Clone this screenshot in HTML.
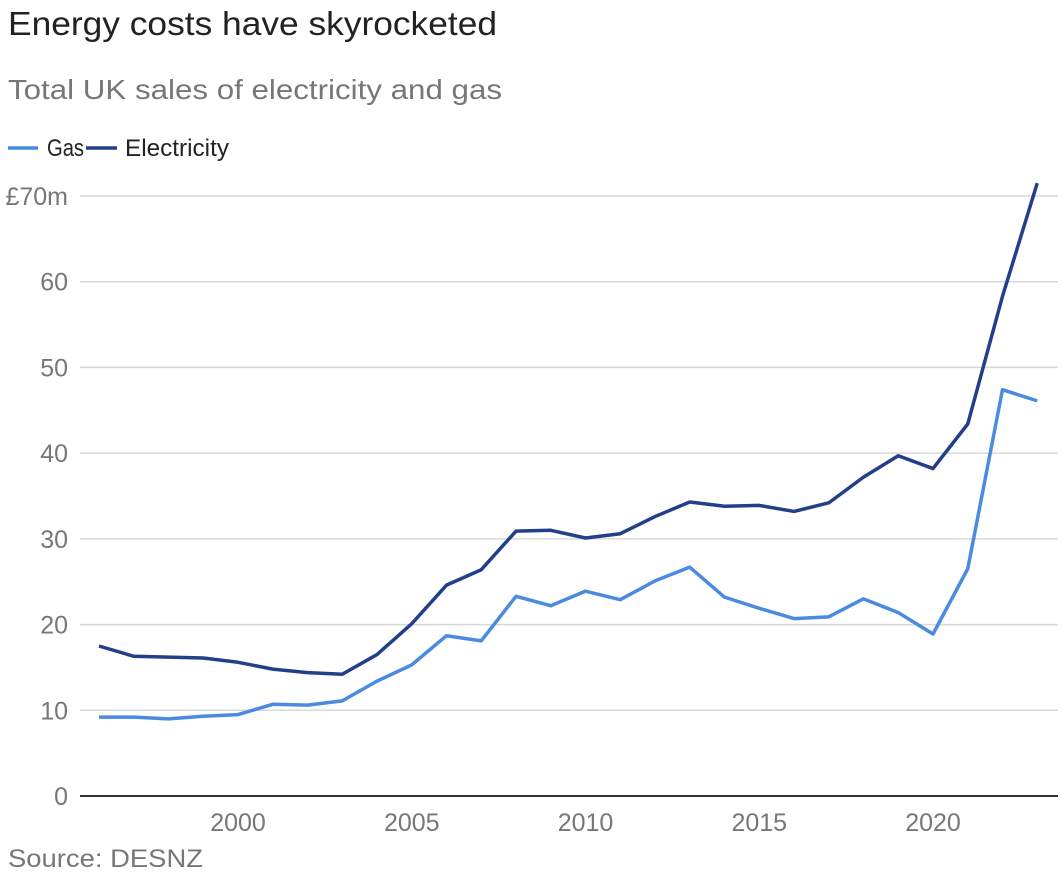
<!DOCTYPE html>
<html><head><meta charset="utf-8"><style>
html,body{margin:0;padding:0;background:#fff;width:1062px;height:882px;overflow:hidden}
svg{display:block}
.t{font-family:"Liberation Sans",sans-serif}
.n{font-family:"Liberation Sans Narrow","Liberation Sans",sans-serif;font-stretch:condensed}
</style></head><body>
<svg id="c" width="1062" height="882">
<text class="t" x="8" y="35" font-size="33" fill="#222" textLength="489" lengthAdjust="spacingAndGlyphs">Energy costs have skyrocketed</text>
<text class="t" x="8" y="99" font-size="28" fill="#777" textLength="494" lengthAdjust="spacingAndGlyphs">Total UK sales of electricity and gas</text>
<g>
<line x1="8" y1="148" x2="38" y2="148" stroke="#4a8be0" stroke-width="3.5"/>
<text class="n" x="47" y="156" font-size="24" fill="#222" textLength="37" lengthAdjust="spacingAndGlyphs">Gas</text>
<line x1="86" y1="148" x2="117" y2="148" stroke="#233f8b" stroke-width="3.5"/>
<text class="n" x="125" y="156" font-size="24" fill="#222" textLength="104" lengthAdjust="spacingAndGlyphs">Electricity</text>
</g>
<g id="grid"></g><g id="lines"></g>
<text class="t" x="8" y="867" font-size="25" fill="#777" textLength="195" lengthAdjust="spacingAndGlyphs">Source: DESNZ</text>
</svg>
<script>
const years=[1996,1997,1998,1999,2000,2001,2002,2003,2004,2005,2006,2007,2008,2009,2010,2011,2012,2013,2014,2015,2016,2017,2018,2019,2020,2021,2022,2023];
const gas=[9.2,9.2,9.0,9.3,9.5,10.7,10.6,11.1,13.4,15.3,18.7,18.1,23.3,22.2,23.9,22.9,25.1,26.7,23.2,21.9,20.7,20.9,23.0,21.4,18.9,26.5,47.4,46.1];
const electricity=[17.5,16.3,16.2,16.1,15.6,14.8,14.4,14.2,16.5,20.1,24.6,26.4,30.9,31.0,30.1,30.6,32.6,34.3,33.8,33.9,33.2,34.2,37.2,39.7,38.2,43.4,58.3,71.5];
const yTicks=[0,10,20,30,40,50,60,70];
const yTickLabels=["0","10","20","30","40","50","60","£70m"];
const xTicks=[2000,2005,2010,2015,2020];
const NS="http://www.w3.org/2000/svg";
const x=v=>99+(v-1996)*34.75;
const y=v=>796-v*(600/70);
function mk(t,a,p){const e=document.createElementNS(NS,t);for(const k in a)e.setAttribute(k,a[k]);p.appendChild(e);return e;}
const g=document.getElementById('grid'),L=document.getElementById('lines');
yTicks.forEach((v,i)=>{
 const ln=mk('line',{x1:80,x2:1058,y1:y(v),y2:y(v),stroke:v===0?'#333':'#d9d9d9','stroke-width':v===0?2:1.5},g);
 
 
 const t=mk('text',{x:68,y:y(v)+9,'text-anchor':'end','font-size':25,fill:'#777',class:'n'},g);
 t.textContent=yTickLabels[i];
 
 
});
xTicks.forEach(v=>{
 const t=mk('text',{x:x(v),y:831,'text-anchor':'middle','font-size':25,fill:'#777',class:'n'},g);
 t.textContent=v;
 
 
});
function line(d,c,name){
 const p=mk('polyline',{points:d.map((v,i)=>x(years[i])+','+y(v)).join(' '),fill:'none',stroke:c,'stroke-width':3.5,'stroke-linejoin':'round'},L);
 
 
}
line(gas,'#4a8be0','gas-line');
line(electricity,'#233f8b','electricity-line');
</script>
</body></html>
